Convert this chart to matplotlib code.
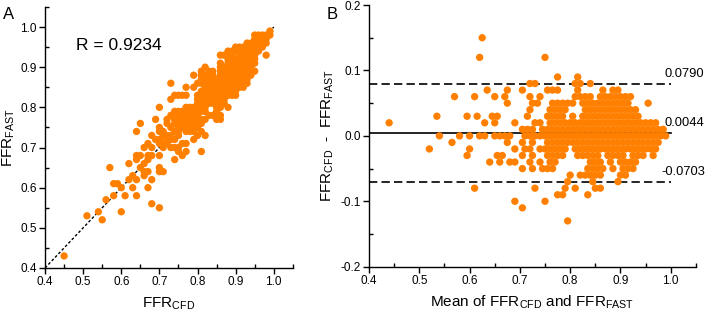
import numpy as np
import matplotlib
matplotlib.use("Agg")
import matplotlib.pyplot as plt
from matplotlib.ticker import MultipleLocator, FormatStrFormatter

plt.rcParams['font.family'] = ['Liberation Sans', 'DejaVu Sans']
plt.rcParams['mathtext.fontset'] = 'custom'
plt.rcParams['mathtext.rm'] = 'Liberation Sans'
plt.rcParams['mathtext.it'] = 'Liberation Sans'

# Bland-Altman rows: difference (CFD - FAST, in hundredths) -> means (in thousandths)
row_p15 = [625]
row_p12 = [620, 750]
row_p09 = [775, 815]
row_p08 = [720, 730, 810, 820, 840]
row_p07 = [635, 675, 705, 755, 765, 775, 815, 865, 885, 895]
row_p06 = [570, 610, 650, 670, 720, 740, 810, 820, 830, 840, 860, 870, 880, 890, 900, 910, 920]
row_p05 = [675, 725, 735, 765, 775, 785, 795, 805, 825, 835, 845, 855, 865, 875, 885, 895,
           905, 915, 955]
row_p04 = [720, 760, 770, 780, 790, 830, 840, 850, 860, 870, 880, 890, 900, 910, 920, 930]
row_p03 = [535, 595, 615, 645, 655, 715, 755, 765, 775, 785, 805, 825, 835, 845, 855, 865,
           875, 885, 895, 905, 915, 925, 935]
row_p02 = [440, 630, 650, 690, 730, 740, 760, 770, 780, 790, 800, 810, 820, 830, 840, 850,
           860, 870, 880, 890, 900, 910, 920, 930, 940, 950, 960, 970]
row_p01 = [705, 715, 725, 745, 755, 765, 775, 785, 795, 805, 815, 825, 835, 845, 855, 865,
           875, 885, 895, 905, 915, 925, 935, 945, 955, 965, 975, 985]
row_000 = [540, 580, 600, 620, 630, 650, 660, 670, 680, 710, 720, 730, 740, 750, 760, 770,
           780, 790, 800, 810, 820, 830, 840, 850, 860, 870, 880, 890, 900, 910, 920, 930,
           940, 950, 960, 970, 980, 990]
row_m01 = [565, 675, 705, 725, 755, 765, 775, 785, 795, 805, 815, 825, 835, 845, 855, 865,
           875, 885, 895, 905, 915, 925, 935, 945, 955, 965, 975]
row_m02 = [520, 600, 690, 710, 720, 740, 750, 760, 770, 780, 790, 810, 820, 830, 840, 850,
           860, 870, 880, 890, 900, 910, 920, 930, 940, 950, 960, 970]
row_m03 = [595, 655, 665, 705, 725, 755, 765, 775, 785, 815, 825, 835, 845, 855, 875, 885,
           895, 905, 925, 935, 945, 965]
row_m04 = [640, 660, 680, 690, 720, 740, 760, 770, 840, 850, 860, 880, 900, 910, 920, 930]
row_m05 = [705, 725, 745, 755, 765, 835, 845, 855, 865, 885, 905, 915, 925]
row_m06 = [800, 820, 830, 840, 850, 860, 900, 910]
row_m07 = [795, 845, 895]
row_m08 = [610, 730, 790, 810, 850, 860]
row_m09 = [775, 785, 835]
row_m10 = [690, 750]
row_m11 = [705]
row_m13 = [795]

rows = [(15, row_p15), (12, row_p12), (9, row_p09), (8, row_p08), (7, row_p07), (6, row_p06),
        (5, row_p05), (4, row_p04), (3, row_p03), (2, row_p02), (1, row_p01), (0, row_000),
        (-1, row_m01), (-2, row_m02), (-3, row_m03), (-4, row_m04), (-5, row_m05),
        (-6, row_m06), (-7, row_m07), (-8, row_m08), (-9, row_m09), (-10, row_m10),
        (-11, row_m11), (-13, row_m13)]

mean_vals = np.concatenate([np.array(m, float) / 1000 for d, m in rows])
diff_vals = np.concatenate([np.full(len(m), d / 100.0) for d, m in rows])
ffr_cfd = mean_vals + diff_vals / 2
ffr_fast = mean_vals - diff_vals / 2

r_text = "R = 0.9234"
loa_upper, bias, loa_lower = 0.0790, 0.0044, -0.0703
loa_labels = ["0.0790", "0.0044", "-0.0703"]
loa_label_x = [0.987, 0.987, 0.981]

orange = '#FF8000'
fig = plt.figure(figsize=(7.08, 3.13), dpi=100)

def style(ax):
    for s in ['top', 'right']:
        ax.spines[s].set_visible(False)
    for s in ['left', 'bottom']:
        ax.spines[s].set_linewidth(1.0)
    ax.tick_params(which='major', direction='out', length=4, width=1.0, labelsize=8.5, pad=2)
    ax.tick_params(which='minor', direction='in', length=3, width=1.0)

sub_cfd = r'FFR$_{\mathregular{CFD}}$'
sub_fast = r'FFR$_{\mathregular{FAST}}$'

# Panel A
axA = fig.add_axes([0.0636, 0.1438, 0.350, 0.834])
axA.plot([0.4, 1.0], [0.4, 1.0], color='black', linestyle=(0, (2, 1.5)), linewidth=1.0, zorder=1)
axA.scatter(ffr_cfd, ffr_fast, s=28, color=orange, edgecolors='none', zorder=2)
axA.set_xlim(0.4, 1.05)
axA.set_ylim(0.4, 1.05)
axA.xaxis.set_major_locator(MultipleLocator(0.1))
axA.yaxis.set_major_locator(MultipleLocator(0.1))
axA.xaxis.set_minor_locator(MultipleLocator(0.05))
axA.yaxis.set_minor_locator(MultipleLocator(0.05))
axA.xaxis.set_major_formatter(FormatStrFormatter('%.1f'))
axA.yaxis.set_major_formatter(FormatStrFormatter('%.1f'))
style(axA)
axA.set_xlabel(sub_cfd, fontsize=11, labelpad=5)
axA.set_ylabel(sub_fast, fontsize=11, labelpad=2)
axA.text(0.481, 0.953, r_text, fontsize=12.5, va='center', ha='left')
fig.text(0.004, 0.955, 'A', fontsize=12, va='center', ha='left')

# Panel B
axB = fig.add_axes([0.5212, 0.1479, 0.4617, 0.836])
for yv, ls in [(loa_upper, (0, (5, 2.5))), (bias, '-'), (loa_lower, (0, (5, 2.5)))]:
    axB.plot([0.4, 1.0], [yv, yv], color='black', linestyle=ls, linewidth=1.2, zorder=1)
axB.scatter(mean_vals, diff_vals, s=28, color=orange, edgecolors='none', zorder=2)
axB.set_xlim(0.4, 1.05)
axB.set_ylim(-0.2, 0.2)
axB.xaxis.set_major_locator(MultipleLocator(0.1))
axB.yaxis.set_major_locator(MultipleLocator(0.1))
axB.xaxis.set_minor_locator(MultipleLocator(0.05))
axB.yaxis.set_minor_locator(MultipleLocator(0.05))
axB.xaxis.set_major_formatter(FormatStrFormatter('%.1f'))
axB.yaxis.set_major_formatter(FormatStrFormatter('%.1f'))
style(axB)
axB.set_xlabel('Mean of ' + sub_cfd + ' and ' + sub_fast, fontsize=11, labelpad=5)
axB.set_ylabel(sub_cfd + '  -  ' + sub_fast, fontsize=11, labelpad=3)
for yv, lab, lx in zip([loa_upper, bias, loa_lower], loa_labels, loa_label_x):
    axB.text(lx, yv + 0.006, lab, fontsize=9.3, va='bottom', ha='left', clip_on=False)
fig.text(0.462, 0.955, 'B', fontsize=12, va='center', ha='left')

fig.savefig('out.png', dpi=100)
